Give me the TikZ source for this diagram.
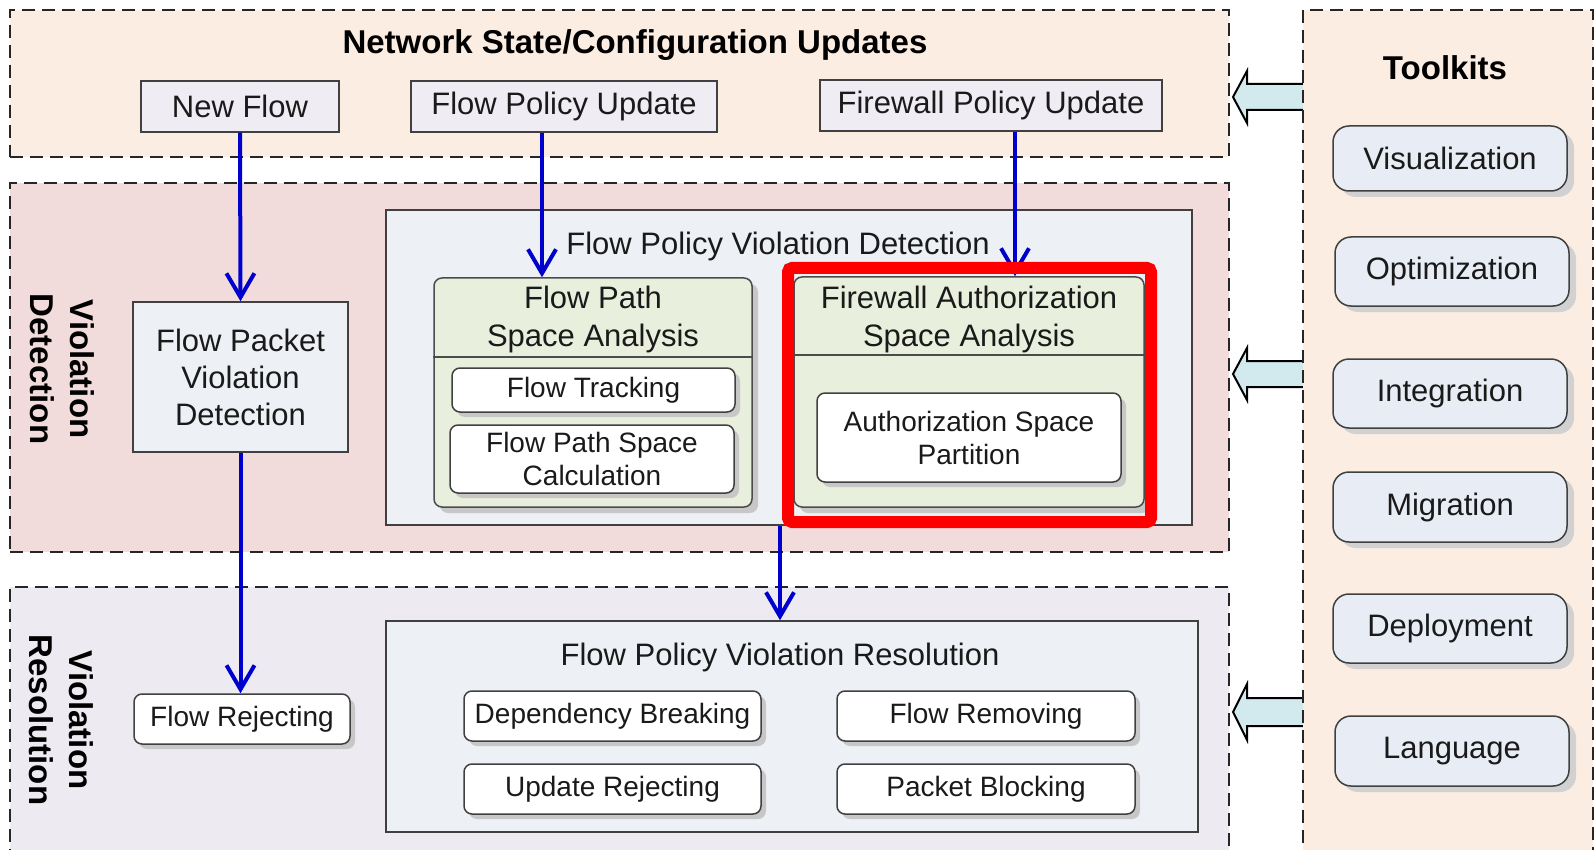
\documentclass[tikz,border=0pt]{standalone}
\usepackage{fontspec}
\setmainfont{Liberation Sans}
\usetikzlibrary{arrows.meta,shadows,calc}
\definecolor{peach}{HTML}{FCEDE2}
\definecolor{pinkbg}{HTML}{F2DCDB}
\definecolor{lavbg}{HTML}{EDEBF1}
\definecolor{topbox}{HTML}{EFEDF3}
\definecolor{bluebox}{HTML}{EDF0F5}
\definecolor{greenbox}{HTML}{E9EFDD}
\definecolor{toolbox}{HTML}{E8EDF5}
\definecolor{cyanarrow}{HTML}{D2EAEE}
\definecolor{flowblue}{HTML}{0000CC}
\definecolor{redframe}{HTML}{FF0000}
\definecolor{ink}{HTML}{1A1A1A}
\tikzset{
  panel/.style={draw=black!85, line width=2.3pt, dash pattern=on 13pt off 7pt, inner sep=0pt},
  sqbox/.style={draw=black!75, line width=1.5pt, inner sep=0pt, align=center, text=ink,
    font=\fontsize{31}{37}\selectfont},
  grbox/.style={draw=black!70, line width=1.5pt, rounded corners=8pt, fill=greenbox, inner sep=0pt,
    drop shadow={shadow xshift=6pt, shadow yshift=-6pt, fill=black!22, opacity=1}},
  whbox/.style={draw=black!75, line width=1.5pt, rounded corners=8pt, fill=white, inner sep=0pt,
    align=center, text=ink, font=\fontsize{28}{33}\selectfont,
    drop shadow={shadow xshift=5pt, shadow yshift=-5pt, fill=black!22, opacity=1}},
  tlbox/.style={draw=black!75, line width=1.5pt, rounded corners=16pt, fill=toolbox, inner sep=0pt,
    align=center, text=ink, font=\fontsize{31}{37}\selectfont,
    drop shadow={shadow xshift=7pt, shadow yshift=-6pt, fill=black!18, opacity=1}},
  boldtitle/.style={font=\bfseries\fontsize{33}{40}\selectfont, text=black, align=center, inner sep=0pt},
  plaintitle/.style={font=\fontsize{31}{38}\selectfont, text=ink, align=center, inner sep=0pt},
  flow/.style={draw=flowblue, line width=4pt, -{Straight Barb[length=24pt,width=28pt]}},
  blockarrow/.style={draw=black, line width=2pt, fill=cyanarrow, line join=miter},
}
\begin{document}
\begin{tikzpicture}[x=1pt, y=-1pt]
\useasboundingbox (0,0) rectangle (1595,850);
\fill[white] (0,0) rectangle (1595,850);

% block arrows (under the toolkit panel border)
\fill[cyanarrow] (1303,84) -- (1247,84) -- (1247,71) -- (1233,97) -- (1247,123) -- (1247,110) -- (1303,110) -- cycle;
\draw[blockarrow, fill=none] (1303,84) -- (1247,84) -- (1247,71) -- (1233,97) -- (1247,123) -- (1247,110) -- (1303,110);
\fill[cyanarrow] (1303,361) -- (1247,361) -- (1247,348) -- (1233,374) -- (1247,400) -- (1247,387) -- (1303,387) -- cycle;
\draw[blockarrow, fill=none] (1303,361) -- (1247,361) -- (1247,348) -- (1233,374) -- (1247,400) -- (1247,387) -- (1303,387);
\fill[cyanarrow] (1303,698) -- (1247,698) -- (1247,684) -- (1233,712) -- (1247,740) -- (1247,726) -- (1303,726) -- cycle;
\draw[blockarrow, fill=none] (1303,698) -- (1247,698) -- (1247,684) -- (1233,712) -- (1247,740) -- (1247,726) -- (1303,726);

% panels
\node[panel, fill=peach, minimum width=1219pt, minimum height=147pt] (toppanel) at (619.5,83.5) {};
\node[panel, fill=pinkbg, minimum width=1219pt, minimum height=369pt] (midpanel) at (619.5,367.5) {};
\node[panel, fill=lavbg, minimum width=1219pt, minimum height=280pt] (botpanel) at (619.5,727) {};
\node[panel, fill=peach, minimum width=290pt, minimum height=860pt] (toolpanel) at (1448,440) {};

% top panel
\node[boldtitle] (toptitle) at (635,45) {Network State/Configuration Updates};
\node[sqbox, fill=topbox, minimum width=198pt, minimum height=51pt] (newflow) at (240,106.5) {New Flow};
\node[sqbox, fill=topbox, minimum width=306pt, minimum height=51pt] (fpu) at (564,106.5) {Flow Policy Update};
\node[sqbox, fill=topbox, minimum width=342pt, minimum height=51pt] (fwpu) at (991,105.5) {Firewall Policy Update};

% toolkits
\node[boldtitle] (tooltitle) at (1445,68) {Toolkits};
\node[tlbox, minimum width=234pt, minimum height=65pt] (vis) at (1450,158.5) {Visualization};
\node[tlbox, minimum width=234pt, minimum height=69pt] (opt) at (1452,271.5) {Optimization};
\node[tlbox, minimum width=234pt, minimum height=69pt] (integ) at (1450,393.5) {Integration};
\node[tlbox, minimum width=234pt, minimum height=70pt] (migr) at (1450,507) {Migration};
\node[tlbox, minimum width=234pt, minimum height=69pt] (deploy) at (1450,628.5) {Deployment};
\node[tlbox, minimum width=234pt, minimum height=70pt] (lang) at (1452,751) {Language};

% violation detection
\node[boldtitle, rotate=-90] (vdlabel) at (62,369) {Violation\\Detection};
\node[sqbox, fill=bluebox, minimum width=215pt, minimum height=150pt] (fpacket) at (240.5,377) {Flow Packet\\Violation\\Detection};
\node[sqbox, fill=bluebox, minimum width=806pt, minimum height=315pt] (fpvd) at (789,367.5) {};
\node[plaintitle] (fpvdtitle) at (778,246) {Flow Policy Violation Detection};

\node[grbox, minimum width=318pt, minimum height=229pt] (fpath) at (593,392.5) {};
\draw[draw=black!70, line width=1.5pt] (fpath.west |- 0,357) -- (fpath.east |- 0,357);
\node[plaintitle] (fpathtitle) at (593,319) {Flow Path\\Space Analysis};
\node[whbox, minimum width=283pt, minimum height=44pt] (ftrack) at (593.5,390) {Flow Tracking};
\node[whbox, minimum width=284pt, minimum height=68pt] (fpsc) at (592,459) {Flow Path Space\\Calculation};

\node[grbox, minimum width=350pt, minimum height=230pt] (fa) at (969,392) {};
\draw[draw=black!70, line width=1.5pt] (fa.west |- 0,355) -- (fa.east |- 0,355);
\node[plaintitle] (fatitle) at (969,319) {Firewall Authorization\\Space Analysis};
\node[whbox, minimum width=304pt, minimum height=89pt] (asp) at (969,437.5) {Authorization Space\\Partition};

% violation resolution
\node[boldtitle, rotate=-90] (vrlabel) at (61,720) {Violation\\Resolution};
\node[whbox, minimum width=216pt, minimum height=50pt] (flowrej) at (242,719) {Flow Rejecting};
\node[sqbox, fill=bluebox, minimum width=812pt, minimum height=211pt] (fpvr) at (792,726.5) {};
\node[plaintitle] (fpvrtitle) at (780,657) {Flow Policy Violation Resolution};
\node[whbox, minimum width=297pt, minimum height=50pt] (depb) at (612.5,716) {Dependency Breaking};
\node[whbox, minimum width=298pt, minimum height=50pt] (frem) at (986,716) {Flow Removing};
\node[whbox, minimum width=297pt, minimum height=50pt] (updrej) at (612.5,789) {Update Rejecting};
\node[whbox, minimum width=298pt, minimum height=50pt] (pblock) at (986,789) {Packet Blocking};

% blue flow arrows
\draw[flow] (newflow.south) -- (fpacket.north);
\draw[flow] ([xshift=-22pt]fpu.south) -- ([xshift=-22pt]fpu.south |- fpath.north);
\draw[flow] ([xshift=24pt]fwpu.south) -- ([xshift=24pt]fwpu.south |- fa.north);
\draw[flow] ([xshift=-9pt]fpvd.south) -- ([xshift=-9pt]fpvd.south |- fpvr.north);
\draw[flow] (fpacket.south) -- (fpacket.south |- flowrej.north);

% red highlight
\node[draw=redframe, line width=12pt, rounded corners=4pt, inner sep=0pt,
  minimum width=363pt, minimum height=254pt] (redframe) at (969.5,395) {};
\end{tikzpicture}
\end{document}
